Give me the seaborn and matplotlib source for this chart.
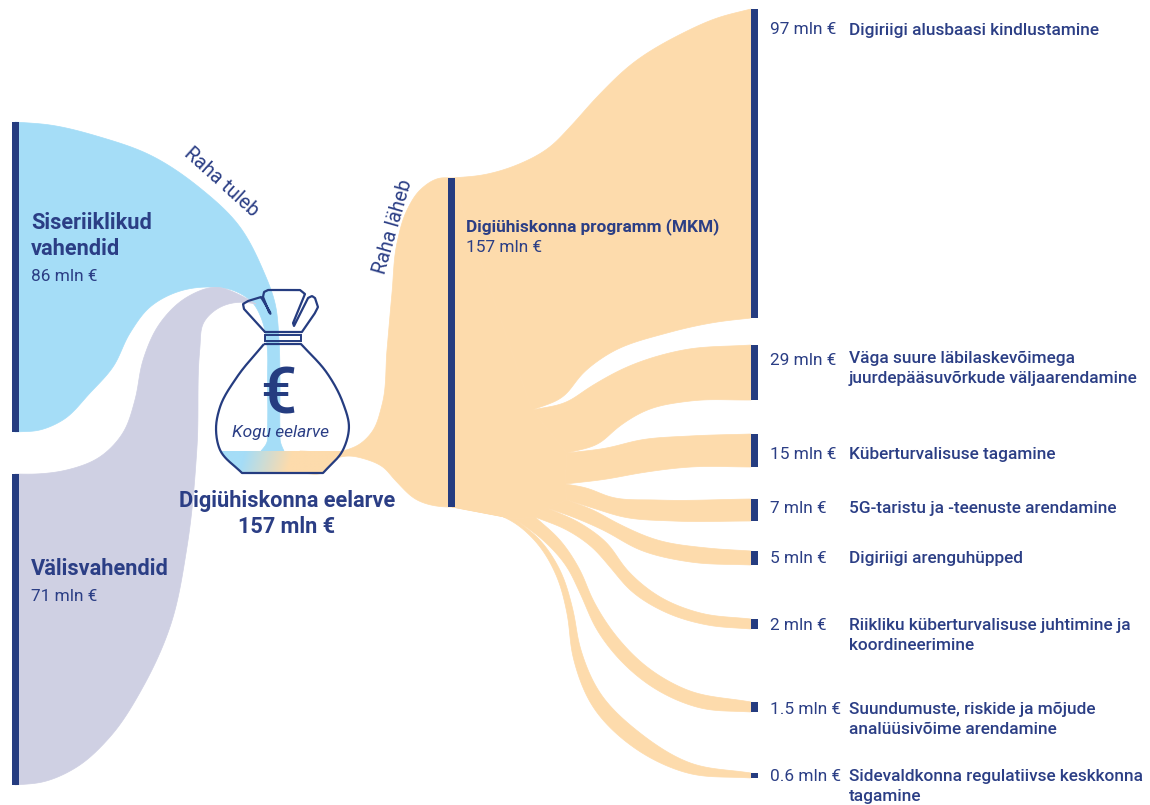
import numpy as np
import pandas as pd
import seaborn as sns
import matplotlib.pyplot as plt
from matplotlib.path import Path
from matplotlib.patches import PathPatch, Rectangle
from matplotlib.colors import to_rgb

# values (mln EUR)
source_names = ["Siseriiklikud\nvahendid", "Välisvahendid"]
source_values = [86, 71]
total_name = "Digiühiskonna eelarve"
total_value = 157
program_name = "Digiühiskonna programm (MKM)"
program_value = 157
target_names = ["Digiriigi alusbaasi kindlustamine",
                "Väga suure läbilaskevõimega\njuurdepääsuvõrkude väljaarendamine",
                "Küberturvalisuse tagamine",
                "5G-taristu ja -teenuste arendamine",
                "Digiriigi arenguhüpped",
                "Riikliku küberturvalisuse juhtimine ja\nkoordineerimine",
                "Suundumuste, riskide ja mõjude\nanalüüsivõime arendamine",
                "Sidevaldkonna regulatiivse keskkonna\ntagamine"]
target_values = [97, 29, 15, 7, 5, 2, 1.5, 0.6]

# drawn size of the bars in the picture, they are not to scale
source_top = [122, 474]
source_bottom = [432, 785]
program_top = [178]
program_bottom = [507]
target_top = [9, 345, 434, 499, 551, 619, 702, 773]
target_bottom = [318, 400, 467, 521, 565, 629, 712, 778]

navy = "#253C80"
text_col = "#2B3E85"
blue = "#A5DDF7"
lav = "#CFD0E3"
orange = "#FDDBAC"

sns.set_theme(style="white")
plt.rcParams["font.family"] = ["Roboto", "DejaVu Sans"]

fig = plt.figure(figsize=(11.5, 8.05), dpi=100)
ax = fig.add_axes([0, 0, 1, 1])


def smooth(pts, sigma=8, straight=False):
    # hermite curve through the guide points, then blur it along the line
    p = np.array(pts, dtype=float)
    t = np.r_[0, np.cumsum(np.hypot(*np.diff(p, axis=0).T))]
    m = np.gradient(p, t, axis=0)
    if straight:
        m = m * 0
    line = []
    for i in range(len(p) - 1):
        h = t[i + 1] - t[i]
        u = np.linspace(0, 1, int(h) + 2)[:-1, None]
        line.append((2 * u**3 - 3 * u**2 + 1) * p[i] + (u**3 - 2 * u**2 + u) * h * m[i]
                    + (-2 * u**3 + 3 * u**2) * p[i + 1] + (u**3 - u**2) * h * m[i + 1])
    line = np.vstack(line + [p[-1:]])
    r = int(3 * sigma)
    k = np.exp(-0.5 * (np.arange(-r, r + 1) / sigma) ** 2)
    k = k / k.sum()
    out = []
    for c in (0, 1):
        v = line[:, c]
        pad = np.r_[2 * v[0] - v[r:0:-1], v, 2 * v[-1] - v[-2:-r - 2:-1]]
        out.append(np.convolve(pad, k, mode="valid"))
    return np.column_stack(out)


def band(upper, lower, color, z=0.5, sigma=8):
    shape = np.vstack([smooth(upper, sigma), smooth(lower, sigma)[::-1]])
    ax.fill(shape[:, 0], shape[:, 1], color=color, lw=0.5, zorder=z)


# money coming in
blue_up = [(15, source_top[0]), (50, 125), (100, 137), (150, 155), (200, 188), (240, 227), (263, 270), (275, 303), (279, 340),
           (280, 380), (280, 430), (280.5, 443), (284, 451)]
blue_lo = [(15, source_bottom[0]), (40, 430), (63, 420), (90, 393), (113, 367), (130, 333), (150, 307), (177, 292), (207, 287),
           (235, 291), (253, 303), (262, 320), (267, 345), (267.5, 380), (267.5, 430), (267, 443), (261, 451)]
band(blue_up, blue_lo, blue, sigma=3)

lav_up = [(15, source_top[1]), (37, 474), (67, 470), (100, 457), (123, 433), (135, 400), (143, 360), (160, 323), (187, 297), (217, 287), (240, 295), (256, 304)]
lav_lo = [(15, source_bottom[1]), (43, 782), (77, 767), (110, 737), (143, 687), (170, 627), (187, 547), (197, 447), (200, 347), (203, 323), (220, 307), (243, 302), (256, 304)]
band(lav_up, lav_lo, lav, z=0.6, sigma=5)

# money going out, left part
trunk_up = [(300, 451), (343, 451), (360, 444), (372, 432), (382, 405), (387, 350), (392, 293), (397, 243), (407, 210), (420, 190), (440, 178), (452, program_top[0])]
trunk_lo = [(300, 473), (323, 473), (337, 458), (347, 456), (365, 459), (383, 467), (395, 480), (417, 500), (447, 507), (452, program_bottom[0])]
band(trunk_up, trunk_lo, orange, sigma=3)

# edges of the outgoing bands, from the fork to the target bar
xe = 751
upper_edges = [
    [(452, 178), (483, 175), (517, 165), (550, 147), (570, 127), (597, 97), (633, 63), (683, 33), (717, 18)],
    [(532, 410), (567, 402), (590, 387), (627, 367), (683, 350)],
    [(567, 453), (607, 448), (640, 440), (690, 436)],
    [(565, 484), (587, 488), (610, 497), (657, 500)],
    [(567, 500), (593, 510), (617, 523), (657, 540), (707, 548)],
    [(547, 508), (580, 523), (607, 543), (627, 570), (660, 597), (700, 613)],
    [(535, 517), (560, 540), (580, 570), (593, 600), (617, 637), (647, 667), (687, 690)],
    [(515, 519), (540, 540), (560, 570), (573, 610), (580, 647), (600, 693), (640, 733), (690, 763)],
]
lower_edges = [
    [(532, 410), (563, 397), (583, 373), (610, 353), (667, 333), (717, 322)],
    [(567, 453), (600, 443), (617, 428), (647, 410), (690, 401)],
    [(565, 484), (607, 479), (640, 473), (690, 467)],
    [(567, 500), (593, 508), (623, 517), (673, 521)],
    [(547, 508), (573, 517), (603, 530), (640, 550), (690, 562)],
    [(535, 517), (567, 530), (593, 548), (610, 567), (630, 590), (667, 613), (707, 625)],
    [(515, 519), (543, 540), (567, 567), (580, 593), (597, 630), (620, 660), (657, 690), (700, 708)],
    [(452, 507), (470, 508), (490, 512), (510, 520), (537, 543), (557, 577), (567, 613), (573, 657), (593, 707), (633, 747), (687, 773)],
]
for i in range(len(target_values)):
    band(upper_edges[i] + [(xe, target_top[i])], lower_edges[i] + [(xe, target_bottom[i])], orange, sigma=6)

# fills the space where the bands split
fork = [(452, 178), (532, 410), (567, 453), (565, 484), (567, 500), (547, 508), (535, 517), (515, 519), (452, 507)]
ax.fill([p[0] for p in fork], [p[1] for p in fork], color=orange, lw=0.5, zorder=0.5)

# nodes
nodes = pd.DataFrame({
    "x": [15, 15, 451] + [754] * len(target_values),
    "top": source_top + program_top + target_top,
    "bottom": source_bottom + program_bottom + target_bottom,
})
nodes["height"] = nodes["bottom"] - nodes["top"]
for _, row in nodes.iterrows():
    sns.barplot(x=[row["x"]], y=[row["height"]], bottom=row["top"], native_scale=True, width=7,
                color=navy, saturation=1, errorbar=None, edgecolor=navy, linewidth=0, ax=ax, zorder=2)

# bag
left_side = [(264, 344), (237, 377), (220, 407), (216, 428), (220, 450), (242, 473)]
right_side = [(323, 473), (343, 450), (349, 427), (343, 403), (327, 373), (301, 344)]
body = np.vstack([smooth(left_side, 2), smooth(right_side, 2), smooth(left_side, 2)[:1]])
body_path = Path(body)
ax.add_patch(PathPatch(body_path, fc="none", ec=navy, lw=1.6, zorder=4, joinstyle="round"))

# blue to orange at the bottom of the bag
xg = np.linspace(0, 1, 140)
yg = np.linspace(0, 1, 24)
gx, gy = np.meshgrid(xg, yg)
tg = np.clip((gx * 134 + 216 - 245 + gy * 6) / 48, 0, 1)[..., None]
img = ax.imshow(np.array(to_rgb(blue)) * (1 - tg) + np.array(to_rgb(orange)) * tg,
                extent=(216, 350, 473, 451), aspect="auto", zorder=1, interpolation="bilinear")
img.set_clip_path(PathPatch(body_path, transform=ax.transData))

lobes = [(265, 332), (244, 309), (243, 304), (248, 301), (261, 297), (270, 312), (270.5, 314), (269, 312),
         (263, 297), (264, 292), (268, 290), (300, 290), (305, 294), (293, 323), (294, 326), (308, 298),
         (312, 296), (315, 298), (318, 307), (315, 313), (302, 332), (265, 332)]
lobe_line = smooth(lobes, 0.7, straight=True)
ax.plot(lobe_line[:, 0], lobe_line[:, 1], color=navy, lw=1.6, solid_joinstyle="round", zorder=4)
ax.add_patch(Rectangle((264.5, 335), 36, 6, fc="none", ec=navy, lw=1.4, zorder=4))

# texts
big = 15.7
small = 12.45
ax.text(31, 223, source_names[0].split("\n")[0], color=text_col, fontsize=big, fontweight="bold", va="center", zorder=5)
ax.text(31, 249, source_names[0].split("\n")[1], color=text_col, fontsize=big, fontweight="bold", va="center", zorder=5)
ax.text(31, 276, f"{source_values[0]} mln €", color=text_col, fontsize=small, va="center", zorder=5)
ax.text(31, 569, source_names[1], color=text_col, fontsize=big, fontweight="bold", va="center", zorder=5)
ax.text(31, 596, f"{source_values[1]} mln €", color=text_col, fontsize=small, va="center", zorder=5)

ax.text(278, 395, "€", color=navy, fontsize=46, fontweight="medium", ha="center", va="center", zorder=5)
ax.text(280, 432, "Kogu eelarve", color=text_col, fontsize=12.5, style="italic", ha="center", va="center", zorder=5)
ax.text(287, 501, total_name, color=text_col, fontsize=big, fontweight="bold", ha="center", va="center", zorder=5)
ax.text(287, 527, f"{total_value} mln €", color=text_col, fontsize=big, fontweight="bold", ha="center", va="center", zorder=5)

ax.text(466, 227, program_name, color=text_col, fontsize=small, fontweight="bold", va="center", zorder=5)
ax.text(466, 247, f"{program_value} mln €", color=text_col, fontsize=small, va="center", zorder=5)

ax.text(221, 182, "Raha tuleb", color=text_col, fontsize=14.2, rotation=-42, ha="center", va="center", rotation_mode="anchor", zorder=5)
ax.text(393, 227, "Raha läheb", color=text_col, fontsize=14.2, rotation=74, ha="center", va="center", rotation_mode="anchor", zorder=5)

value_y = [29, 359, 453, 507, 557, 624, 708, 775]
name_y = [29, 367.5, 453, 507, 557, 634.5, 718.5, 785.5]
for i in range(len(target_values)):
    ax.text(770, value_y[i] + 1, f"{target_values[i]:g} mln €", color=text_col, fontsize=small, va="center", zorder=5)
    ax.text(849, name_y[i] + 1, target_names[i], color=text_col, fontsize=small, fontweight="medium", va="center",
            linespacing=1.41, zorder=5)

ax.set_xlim(0, 1150)
ax.set_ylim(805, 0)
ax.set_axis_off()

fig.savefig("out.png", dpi=100)
